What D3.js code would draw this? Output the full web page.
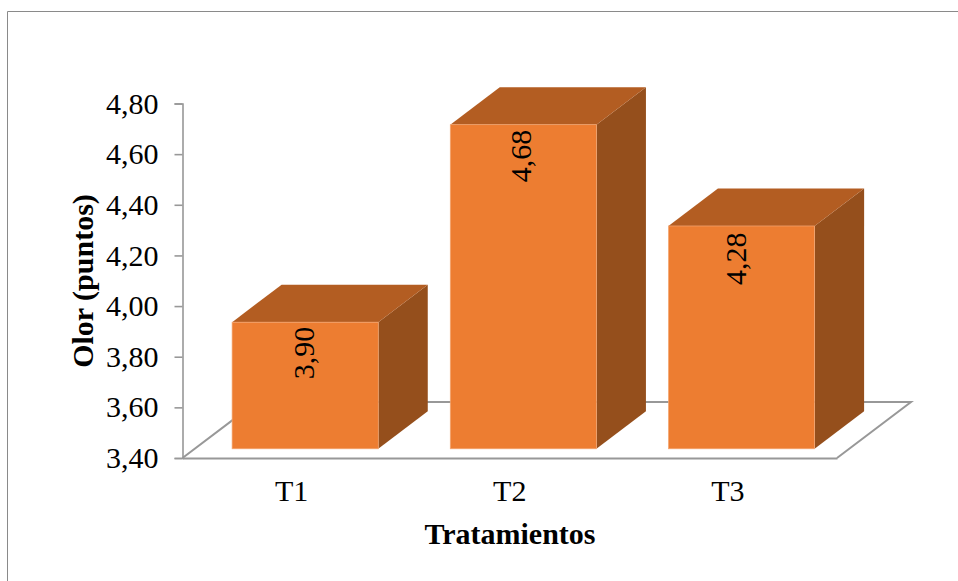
<!DOCTYPE html>
<html><head><meta charset="utf-8">
<script src="https://cdn.jsdelivr.net/npm/d3@7"></script>
<style>
html,body{margin:0;padding:0;background:#fff}
svg{display:block}
text{font-family:"Liberation Serif",serif;fill:#000}
</style></head>
<body><svg id="chart" width="958" height="581"></svg>
<script>
// Olor score per treatment
const categories = ["T1", "T2", "T3"];
const values = [3.90, 4.68, 4.28];
const tickValues = [3.4, 3.6, 3.8, 4.0, 4.2, 4.4, 4.6, 4.8];
const yTitle = "Olor (puntos)";
const xTitle = "Tratamientos";

const svg = d3.select("#chart");
const gray = "#989898";
const fontSize = 30;
const fmt = d3.formatLocale({decimal: ",", thousands: ".", grouping: [3], currency: ["", ""]}).format(".2f");

const x0 = 182.5, x1 = 837, yBase = 458, yTop = 103.5;
const y = d3.scaleLinear().domain([3.4, 4.8]).range([yBase, yTop]);
const x = d3.scaleBand().domain(categories).range([x0, x1]).paddingInner(0.33).paddingOuter(0.165);

// Pseudo-3D offsets: floor depth, box depth, and where boxes sit on the floor
const floorDepth = {dx: 74, dy: -56};
const boxDepth = {dx: 49.5, dy: -37.5};
const boxShift = {dx: 13.6, dy: -9.2};

// Per-box placement of the rotated value label: across from centre, down from top edge
const labelNudge = {T1: [8.5, 4.5], T2: [7.6, 5], T3: [4.5, 6.5]};

// Outer frame, open on the right and bottom edges
svg.append("path")
  .attr("d", "M7.5,581V11.5H958")
  .attr("fill", "none").attr("stroke", "#8a8a8a").attr("stroke-width", 1);

// Floor plane
svg.append("path")
  .attr("d", d3.line()([
    [x0, yBase], [x0 + floorDepth.dx, yBase + floorDepth.dy],
    [x1 + floorDepth.dx, yBase + floorDepth.dy], [x1, yBase]
  ]))
  .attr("fill", "none").attr("stroke", gray).attr("stroke-width", 2);

// Axes
const yAxis = d3.axisLeft(y).tickValues(tickValues).tickFormat(fmt).tickSize(8).tickPadding(16);
const gy = svg.append("g").attr("transform", `translate(${x0},0)`).call(yAxis);
gy.selectAll("path,line").attr("stroke", gray).attr("stroke-width", 1.6);
gy.selectAll("text").attr("font-size", fontSize).attr("font-family", "Liberation Serif");

const xAxis = d3.axisBottom(x).tickSize(0).tickPadding(22);
const gx = svg.append("g").attr("transform", `translate(0,${yBase})`).call(xAxis);
gx.select("path").attr("stroke", gray).attr("stroke-width", 2);
gx.selectAll("text").attr("font-size", fontSize).attr("font-family", "Liberation Serif");

// Boxes: side, top and front faces
const boxes = svg.selectAll("g.box").data(categories.map((c, i) => ({c, v: values[i]}))).join("g").attr("class", "box");
const geom = d => {
  const l = x(d.c) + boxShift.dx, r = l + x.bandwidth();
  return {l, r, t: y(d.v) + boxShift.dy, b: y(3.4) + boxShift.dy};
};
boxes.append("path").attr("fill", "#954f1c").attr("d", d => {
  const g = geom(d);
  return d3.line()([[g.r, g.t], [g.r + boxDepth.dx, g.t + boxDepth.dy], [g.r + boxDepth.dx, g.b + boxDepth.dy], [g.r, g.b]]) + "Z";
});
boxes.append("path").attr("fill", "#b35d22").attr("d", d => {
  const g = geom(d);
  return d3.line()([[g.l, g.t], [g.l + boxDepth.dx, g.t + boxDepth.dy], [g.r + boxDepth.dx, g.t + boxDepth.dy], [g.r, g.t]]) + "Z";
});
boxes.append("rect").attr("fill", "#ed7d31")
  .attr("stroke", "#f4a874").attr("stroke-width", 0.7)
  .attr("x", d => geom(d).l).attr("y", d => geom(d).t)
  .attr("width", x.bandwidth()).attr("height", d => geom(d).b - geom(d).t);

// Value labels, rotated, hanging from each box's top edge
boxes.append("text")
  .attr("transform", d => {
    const g = geom(d);
    const [across, down] = labelNudge[d.c];
    return `translate(${(g.l + g.r) / 2 + across},${g.t + down}) rotate(-90)`;
  })
  .attr("text-anchor", "end").attr("font-size", fontSize)
  .text(d => fmt(d.v));

// Axis titles
svg.append("text").attr("transform", "translate(93,281) rotate(-90)")
  .attr("text-anchor", "middle").attr("font-size", fontSize).attr("font-weight", "bold").text(yTitle);
svg.append("text").attr("x", 510).attr("y", 543.5)
  .attr("text-anchor", "middle").attr("font-size", fontSize).attr("font-weight", "bold").text(xTitle);
</script></body></html>
